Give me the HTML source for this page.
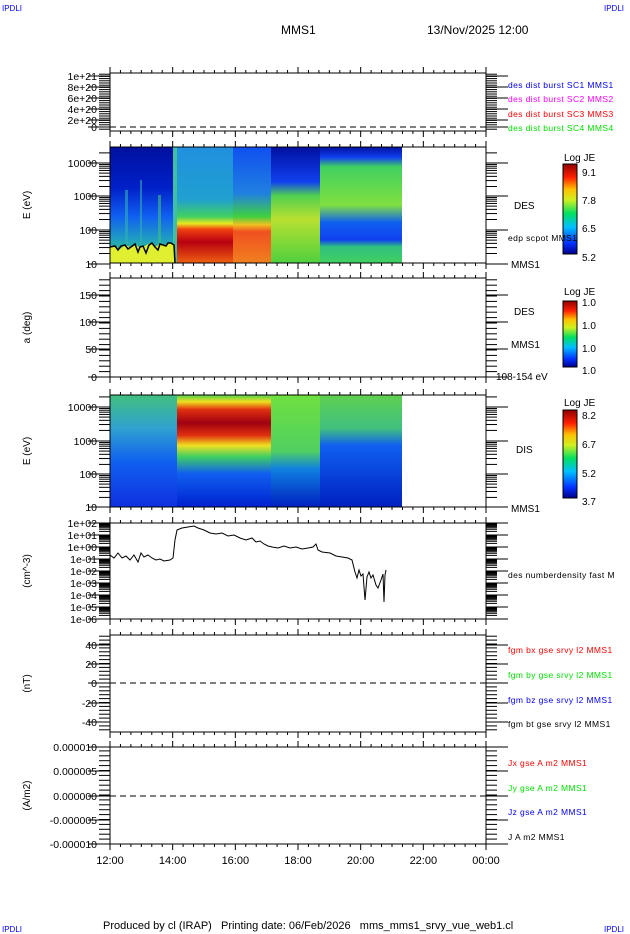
<!DOCTYPE html>
<html><head><meta charset="utf-8"><style>
body{margin:0;background:#fff}
svg{display:block;font-family:"Liberation Sans",sans-serif}
</style></head><body>
<svg id="s" width="630" height="934" viewBox="0 0 630 934" xmlns="http://www.w3.org/2000/svg">
<defs>
<linearGradient id="gA" x1="0" y1="0" x2="0" y2="1"><stop offset="0" stop-color="#0010a0"/><stop offset=".35" stop-color="#0020c8"/><stop offset=".6" stop-color="#1060f0"/><stop offset=".8" stop-color="#20a0c0"/><stop offset="1" stop-color="#40d060"/></linearGradient>
<linearGradient id="gB" x1="0" y1="0" x2="0" y2="1"><stop offset="0" stop-color="#2090e0"/><stop offset=".45" stop-color="#20a0d0"/><stop offset=".6" stop-color="#40d060"/><stop offset=".66" stop-color="#e8e820"/><stop offset=".71" stop-color="#f04010"/><stop offset=".82" stop-color="#b80010"/><stop offset="1" stop-color="#f06010"/></linearGradient>
<linearGradient id="gC" x1="0" y1="0" x2="0" y2="1"><stop offset="0" stop-color="#1050f0"/><stop offset=".4" stop-color="#2080e0"/><stop offset=".6" stop-color="#40d040"/><stop offset=".67" stop-color="#f0c020"/><stop offset=".73" stop-color="#f05020"/><stop offset="1" stop-color="#f08020"/></linearGradient>
<linearGradient id="gD" x1="0" y1="0" x2="0" y2="1"><stop offset="0" stop-color="#0010a0"/><stop offset=".3" stop-color="#1040f0"/><stop offset=".42" stop-color="#50d050"/><stop offset=".62" stop-color="#b8e030"/><stop offset="1" stop-color="#50d040"/></linearGradient>
<linearGradient id="gE" x1="0" y1="0" x2="0" y2="1"><stop offset="0" stop-color="#0010a0"/><stop offset=".09" stop-color="#1040f0"/><stop offset=".17" stop-color="#40d060"/><stop offset=".5" stop-color="#80e040"/><stop offset=".65" stop-color="#1060f0"/><stop offset=".8" stop-color="#1040f0"/><stop offset=".86" stop-color="#30c080"/><stop offset="1" stop-color="#40d060"/></linearGradient>
<linearGradient id="hA" x1="0" y1="0" x2="0" y2="1"><stop offset="0" stop-color="#40c080"/><stop offset=".3" stop-color="#30a0d0"/><stop offset=".6" stop-color="#1060f0"/><stop offset="1" stop-color="#1030e0"/></linearGradient>
<linearGradient id="hB" x1="0" y1="0" x2="0" y2="1"><stop offset="0" stop-color="#50d050"/><stop offset=".06" stop-color="#f0e020"/><stop offset=".13" stop-color="#e03010"/><stop offset=".25" stop-color="#a00010"/><stop offset=".36" stop-color="#e03010"/><stop offset=".45" stop-color="#f0e020"/><stop offset=".55" stop-color="#40d060"/><stop offset=".7" stop-color="#1060f0"/><stop offset="1" stop-color="#0020d0"/></linearGradient>
<linearGradient id="hC" x1="0" y1="0" x2="0" y2="1"><stop offset="0" stop-color="#70e040"/><stop offset=".5" stop-color="#50d060"/><stop offset=".66" stop-color="#1080e0"/><stop offset="1" stop-color="#0020c0"/></linearGradient>
<linearGradient id="hD" x1="0" y1="0" x2="0" y2="1"><stop offset="0" stop-color="#60d050"/><stop offset=".3" stop-color="#40c080"/><stop offset=".45" stop-color="#1060f0"/><stop offset="1" stop-color="#0020c0"/></linearGradient>
<linearGradient id="cb" x1="0" y1="1" x2="0" y2="0"><stop offset="0" stop-color="#00008b"/><stop offset=".12" stop-color="#0030ff"/><stop offset=".3" stop-color="#00c0ff"/><stop offset=".45" stop-color="#00e060"/><stop offset=".6" stop-color="#d0f020"/><stop offset=".72" stop-color="#ffc000"/><stop offset=".85" stop-color="#ff2000"/><stop offset="1" stop-color="#900000"/></linearGradient>
</defs>
<g font-size="8" fill="#0000ff"><text x="2" y="11">IPDLI</text><text x="604" y="11">IPDLI</text><text x="2" y="932">IPDLI</text><text x="604" y="932">IPDLI</text></g>
<text x="281" y="34" font-size="12">MMS1</text>
<text x="427" y="34" font-size="12">13/Nov/2025 12:00</text>
<text x="103" y="929" font-size="11" xml:space="preserve">Produced by cl (IRAP)   Printing date: 06/Feb/2026   mms_mms1_srvy_vue_web1.cl</text>

<rect x="110" y="147" width="63" height="116" fill="url(#gA)"/>
<rect x="125" y="190" width="3" height="55" fill="#30b0b0" opacity=".6"/>
<rect x="140" y="180" width="2" height="65" fill="#30b0b0" opacity=".6"/>
<rect x="158" y="195" width="3" height="50" fill="#40c080" opacity=".6"/>
<rect x="173" y="147" width="4" height="116" fill="#40c0a0"/>
<rect x="177" y="147" width="56" height="116" fill="url(#gB)"/>
<rect x="233" y="147" width="38" height="116" fill="url(#gC)"/>
<rect x="271" y="147" width="49" height="116" fill="url(#gD)"/>
<rect x="320" y="147" width="82" height="116" fill="url(#gE)"/>
<polygon fill="#e0f030" points="110,263 110,247 115,246 120,249 125,245 130,247 135,244 140,248 145,246 150,243 155,247 160,244 165,245 170,243 174,245 175,263"/>
<polyline fill="none" stroke="#000" stroke-width="1.5" points="110,247 115,246 118,250 121,246 125,245 128,249 131,247 135,244 138,252 140,247 143,246 146,253 149,245 152,243 155,247 158,250 160,244 163,245 166,246 168,243 171,243 174,245 175,263"/>
<rect x="110" y="395" width="67" height="112" fill="url(#hA)"/>
<rect x="177" y="395" width="94" height="112" fill="url(#hB)"/>
<rect x="271" y="395" width="49" height="112" fill="url(#hC)"/>
<rect x="320" y="395" width="82" height="112" fill="url(#hD)"/>
<polyline fill="none" stroke="#000" stroke-width="1" points="110,555 114,558 118,553 122,558 126,556 130,560 134,555 138,562 141,553 144,557 148,555 152,558 156,560 160,559 164,561 170,560 173,558 175,540 177,530 182,528 188,527 194,526 198,528 204,530 210,533 216,534 222,533 228,536 234,535 240,538 246,540 252,538 256,542 260,541 264,544 268,546 272,547 278,548 284,546 290,548 296,547 302,549 308,548 313,547 316,544 318,550 322,552 330,553 336,556 342,557 348,558 352,560 355,572 357,578 359,570 361,576 363,574 365,600 367,577 369,572 371,578 373,575 376,585 378,588 381,580 383,574 384,602 385,575 386,570"/>
<g id="ax"></g>
<rect x="563" y="164" width="14" height="90" fill="url(#cb)" stroke="#000"/>
<rect x="563" y="301" width="14" height="66" fill="url(#cb)" stroke="#000"/>
<rect x="563" y="410" width="14" height="88" fill="url(#cb)" stroke="#000"/>
<g font-size="10" fill="#000">
<text x="564" y="161">Log JE</text><text x="582" y="176">9.1</text><text x="582" y="204">7.8</text><text x="582" y="232">6.5</text><text x="582" y="261">5.2</text>
<text x="564" y="295">Log JE</text><text x="582" y="306">1.0</text><text x="582" y="329">1.0</text><text x="582" y="352">1.0</text><text x="582" y="374">1.0</text>
<text x="564" y="406">Log JE</text><text x="582" y="419">8.2</text><text x="582" y="448">6.7</text><text x="582" y="477">5.2</text><text x="582" y="505">3.7</text>
<text x="514" y="209">DES</text><text x="511" y="268">MMS1</text>
<text x="514" y="315">DES</text><text x="511" y="348">MMS1</text><text x="496" y="380">108-154 eV</text>
<text x="516" y="453">DIS</text><text x="511" y="512">MMS1</text>
</g>
<g font-size="8.5" letter-spacing="0.4">
<text x="508" y="88" fill="#0000ff">des dist burst SC1 MMS1</text>
<text x="508" y="102" fill="#ff00ff">des dist burst SC2 MMS2</text>
<text x="508" y="117" fill="#ff0000">des dist burst SC3 MMS3</text>
<text x="508" y="131" fill="#00e000">des dist burst SC4 MMS4</text>
<text x="508" y="241" fill="#000">edp scpot MMS1</text>
<text x="508" y="578" fill="#000">des numberdensity fast M</text>
<text x="508" y="653" fill="#ff0000">fgm bx gse srvy l2 MMS1</text>
<text x="508" y="678" fill="#00e000">fgm by gse srvy l2 MMS1</text>
<text x="508" y="703" fill="#0000ff">fgm bz gse srvy l2 MMS1</text>
<text x="508" y="727" fill="#000">fgm bt gse srvy l2 MMS1</text>
<text x="508" y="766" fill="#ff0000">Jx gse A m2 MMS1</text>
<text x="508" y="791" fill="#00e000">Jy gse A m2 MMS1</text>
<text x="508" y="815" fill="#0000ff">Jz gse A m2 MMS1</text>
<text x="508" y="840" fill="#000">J A m2 MMS1</text>
</g>
</svg>
<script>
var NS="http://www.w3.org/2000/svg",g=document.getElementById("ax");
function el(t,a,txt){var e=document.createElementNS(NS,t);for(var k in a)e.setAttribute(k,a[k]);if(txt!==undefined)e.textContent=txt;g.appendChild(e);return e;}
function line(x1,y1,x2,y2,extra){var a={x1:x1,y1:y1,x2:x2,y2:y2,stroke:"#000","stroke-width":1};if(extra)for(var k in extra)a[k]=extra[k];el("line",a);}
var X0=110,X1=486;
var panels=[
 {t:73,b:131,labs:[["1e+21",76],["8e+20",87],["6e+20",98],["4e+20",109],["2e+20",120],["0",127]],minor:2.2,dash:127,yl:""},
 {t:147,b:263,labs:[["10000",163],["1000",196],["100",230],["10",264]],log:33.6,yl:"E (eV)"},
 {t:278,b:377,labs:[["150",295],["100",322],["50",349],["0",377]],minor:5.4,yl:"a (deg)"},
 {t:395,b:507,labs:[["10000",407],["1000",441],["100",474],["10",507]],log:33.5,yl:"E (eV)"},
 {t:523,b:619,labs:[["1e+02",523],["1e+01",535],["1e+00",547],["1e-01",559],["1e-02",571],["1e-03",583],["1e-04",595],["1e-05",607],["1e-06",619]],log:12,yl:"(cm^-3)"},
 {t:635,b:732,labs:[["40",645],["20",664],["0",683],["-20",703],["-40",722]],minor:3.9,dash:683,yl:"(nT)"},
 {t:747,b:844,labs:[["0.000010",747],["0.000005",771],["0.000000",796],["-0.000005",820],["-0.000010",844]],minor:4.9,dash:796,yl:"(A/m2)"}
];
panels.forEach(function(p){
 el("rect",{x:X0,y:p.t,width:X1-X0,height:p.b-p.t,fill:"none",stroke:"#000","stroke-width":1});
 for(var i=0;i<=36;i++){var x=X0+i*(X1-X0)/36;var L=(i%6==0)?6:3;
  line(x,p.t,x,p.t-L);line(x,p.b,x,p.b+L);}
 var ys=p.labs.map(function(l){return l[1];});
 ys.forEach(function(y){line(X0-22,y,X0,y);line(X1,y,X1+22,y);});
 if(p.log){for(var d=0;d<ys.length;d++){var y0=ys[d];for(var m=2;m<=9;m++){var yy=y0+p.log*(1-Math.log10(m));if(yy>p.t-0.5&&yy<p.b+0.5){line(X0-11,yy,X0,yy);line(X1,yy,X1+11,yy);}}}
  for(var m=2;m<=9;m++){var yy=ys[0]-p.log*Math.log10(m);if(yy>p.t){line(X0-11,yy,X0,yy);line(X1,yy,X1+11,yy);}}
 } else {
  for(var y=ys[ys.length-1];y>p.t-0.5;y-=p.minor){line(X0-11,y,X0,y);line(X1,y,X1+11,y);}
  for(var y=ys[ys.length-1];y<p.b;y+=p.minor){line(X0-11,y,X0,y);line(X1,y,X1+11,y);}
 }
 p.labs.forEach(function(l){el("text",{x:X0-13,y:l[1]+4,"font-size":10.5,"text-anchor":"end"},l[0]);});
 if(p.dash)line(X0,p.dash,X1,p.dash,{"stroke-dasharray":"6,4"});
 if(p.yl){var cy=(p.t+p.b)/2;el("text",{x:0,y:0,"font-size":10,"text-anchor":"middle",transform:"translate(30,"+cy+") rotate(-90)"},p.yl);}
});
var tl=["12:00","14:00","16:00","18:00","20:00","22:00","00:00"];
tl.forEach(function(t,i){el("text",{x:X0+i*(X1-X0)/6,y:864,"font-size":11,"text-anchor":"middle"},t);});
</script>
</body></html>
